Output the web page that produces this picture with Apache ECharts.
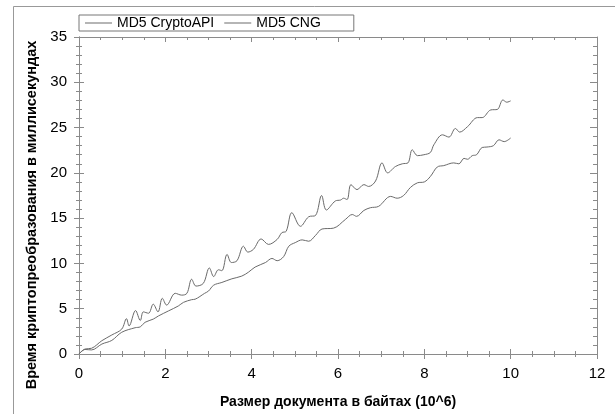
<!DOCTYPE html>
<html>
<head>
<meta charset="utf-8">
<script src="https://cdn.jsdelivr.net/npm/echarts@6/dist/echarts.min.js"></script>
<style>
    html, body { margin: 0; padding: 0; background: #fff; }
    #chart { width: 615px; height: 414px; }
</style>
</head>
<body>
<div id="chart"></div>
<script>
const xCrypto = [0, 0.14, 0.29, 0.53, 0.76, 0.99, 1.1, 1.16, 1.31, 1.42, 1.49, 1.61, 1.72, 1.83, 1.93, 2.03,
    2.23, 2.38, 2.5, 2.61, 2.71, 2.88, 3.02, 3.12, 3.23, 3.31, 3.43, 3.53, 3.66, 3.81, 3.91, 4.04, 4.22, 4.39,
    4.59, 4.7, 4.8, 4.93, 5.13, 5.32, 5.48, 5.62, 5.73, 5.94, 6.06, 6.13, 6.21, 6.3, 6.44, 6.6, 6.71, 6.87,
    7.02, 7.15, 7.33, 7.49, 7.62, 7.72, 7.84, 7.99, 8.14, 8.22, 8.42, 8.57, 8.72, 8.82, 9.0, 9.23, 9.34,
    9.54, 9.69, 9.82, 9.91, 10.0];
const yCrypto = [0, 0.55, 0.63, 1.47, 2.1, 2.75, 3.9, 3.1, 4.8, 3.7, 4.65, 4.5, 5.5, 4.65, 6.15, 5.4,
    6.7, 6.5, 6.7, 8.25, 7.5, 7.8, 9.5, 8.55, 9.3, 9.2, 11.0, 10.1, 10.3, 11.9, 11.25, 11.55, 12.7, 12.1,
    12.65, 13.4, 13.55, 15.6, 14.1, 15.15, 15.3, 17.5, 15.9, 16.9, 17.0, 17.2, 17.05, 18.7, 18.15, 18.7, 18.5, 19.1,
    21.1, 20.0, 20.7, 21.0, 21.1, 22.55, 21.9, 22.0, 22.25, 23.1, 24.2, 23.95, 24.9, 24.5, 25.1, 26.1, 26.1,
    26.95, 27.0, 28.05, 27.8, 27.95];

const xCng = [0, 0.14, 0.29, 0.53, 0.76, 0.99, 1.3, 1.42, 1.53, 1.72, 1.84, 2.07, 2.3, 2.42, 2.61, 2.69,
    2.91, 3.0, 3.12, 3.31, 3.54, 3.77, 3.93, 4.08, 4.32, 4.47, 4.59, 4.74, 4.86, 5.01, 5.17, 5.32, 5.48,
    5.63, 5.9, 6.17, 6.33, 6.43, 6.6, 6.75, 6.94, 7.22, 7.37, 7.52, 7.68, 7.84, 8.0, 8.14, 8.3, 8.45,
    8.68, 8.8, 8.92, 9.0, 9.11, 9.21, 9.34, 9.45, 9.6, 9.73, 9.85, 10.0];
const yCng = [0, 0.5, 0.45, 1.1, 1.5, 2.4, 2.9, 3.0, 3.5, 3.85, 4.2, 4.75, 5.3, 5.7, 6.0, 6.05,
    6.7, 6.95, 7.6, 7.9, 8.3, 8.6, 9.05, 9.6, 10.1, 10.55, 10.3, 10.75, 11.9, 12.3, 12.6, 12.45, 13.1,
    13.8, 13.9, 14.85, 15.4, 15.2, 15.85, 16.15, 16.3, 17.4, 17.2, 17.5, 18.4, 18.9, 19.0, 19.6, 20.65, 20.8,
    21.1, 21.0, 21.6, 21.5, 21.9, 22.0, 22.8, 22.85, 23.0, 23.65, 23.45, 23.85];

const seriesNames = ['MD5 CryptoAPI', 'MD5 CNG'];
const xTitle = 'Размер документа в байтах (10^6)';
const yTitle = 'Время криптопреобразования в миллисекундах';

const FONT = '"Liberation Sans", Arial, sans-serif';
const AXIS_COLOR = '#8a8a8a';
const LINE_COLOR = '#6a6a6a';

const zip = (xs, ys) => xs.map((x, i) => [x, ys[i]]);

function xAxisBase(extra) {
    return Object.assign({
        type: 'value',
        min: 0,
        max: 12,
        interval: 2,
        splitLine: { show: false },
        axisLine: { show: true, onZero: false, lineStyle: { color: AXIS_COLOR, width: 1 } },
        axisTick: { show: true, length: 5, lineStyle: { color: AXIS_COLOR } },
        minorTick: { show: true, splitNumber: 4, length: 3, lineStyle: { color: AXIS_COLOR } },
        axisLabel: { show: false },
    }, extra);
}

function yAxisBase(extra) {
    return Object.assign({
        type: 'value',
        min: 0,
        max: 35,
        interval: 5,
        splitLine: { show: false },
        axisLine: { show: true, onZero: false, lineStyle: { color: AXIS_COLOR, width: 1 } },
        axisTick: { show: true, length: 5, lineStyle: { color: AXIS_COLOR } },
        minorTick: { show: true, splitNumber: 5, length: 3, lineStyle: { color: AXIS_COLOR } },
        axisLabel: { show: false },
    }, extra);
}

const chart = echarts.init(document.getElementById('chart'), null, { renderer: 'canvas' });

chart.setOption({
    animation: false,
    backgroundColor: '#fff',
    textStyle: { fontFamily: FONT },
    grid: { left: 79, right: 18, top: 37, bottom: 59, containLabel: false },
    legend: {
        left: 79,
        top: 15,
        orient: 'horizontal',
        data: seriesNames,
        icon: 'rect',
        itemWidth: 27,
        itemHeight: 1,
        itemGap: 10,
        padding: [1, 33, 1, 6],
        borderColor: '#777',
        borderWidth: 1,
        borderRadius: 0,
        textStyle: { color: '#000', fontSize: 14, fontFamily: FONT, lineHeight: 14 },
    },
    xAxis: [
        xAxisBase({
            position: 'bottom',
            axisLabel: { show: true, color: '#000', fontSize: 15, margin: 12, fontFamily: FONT },
            name: xTitle,
            nameLocation: 'middle',
            nameGap: 41,
            nameTextStyle: { color: '#000', fontSize: 14, fontWeight: 'bold', fontFamily: FONT },
        }),
        xAxisBase({
            position: 'bottom',
            axisTick: { show: true, inside: true, length: 5, lineStyle: { color: AXIS_COLOR } },
            minorTick: { show: true, splitNumber: 4, length: 3, lineStyle: { color: AXIS_COLOR } },
        }),
        xAxisBase({
            position: 'top',
            axisTick: { show: true, inside: true, length: 5, lineStyle: { color: AXIS_COLOR } },
            minorTick: { show: true, splitNumber: 4, length: 3, lineStyle: { color: AXIS_COLOR } },
        }),
    ],
    yAxis: [
        yAxisBase({
            position: 'left',
            axisLabel: { show: true, color: '#000', fontSize: 15, margin: 12, fontFamily: FONT },
        }),
        yAxisBase({
            position: 'left',
            axisTick: { show: true, inside: true, length: 5, lineStyle: { color: AXIS_COLOR } },
            minorTick: { show: true, splitNumber: 5, length: 3, lineStyle: { color: AXIS_COLOR } },
        }),
        yAxisBase({
            position: 'right',
            axisTick: { show: true, inside: true, length: 7, lineStyle: { color: AXIS_COLOR } },
            minorTick: { show: true, splitNumber: 5, length: 4, lineStyle: { color: AXIS_COLOR } },
        }),
    ],
    graphic: [
        {
            type: 'rect',
            z: -10,
            shape: { x: 13.5, y: 6.5, width: 700, height: 500 },
            style: { fill: 'none', stroke: '#999', lineWidth: 1 },
        },
        {
            type: 'text',
            x: 32,
            y: 215,
            rotation: Math.PI / 2,
            style: {
                text: yTitle,
                fill: '#000',
                font: 'bold 14.5px ' + FONT,
                align: 'center',
                verticalAlign: 'middle',
            },
        },
    ],
    series: [
        {
            name: seriesNames[0],
            type: 'line',
            xAxisIndex: 0,
            yAxisIndex: 0,
            data: zip(xCrypto, yCrypto),
            smooth: 0.35,
            symbol: 'none',
            lineStyle: { color: LINE_COLOR, width: 1 },
            itemStyle: { color: LINE_COLOR },
        },
        {
            name: seriesNames[1],
            type: 'line',
            xAxisIndex: 0,
            yAxisIndex: 0,
            data: zip(xCng, yCng),
            smooth: 0.35,
            symbol: 'none',
            lineStyle: { color: LINE_COLOR, width: 1 },
            itemStyle: { color: LINE_COLOR },
        },
    ],
});
</script>
</body>
</html>
